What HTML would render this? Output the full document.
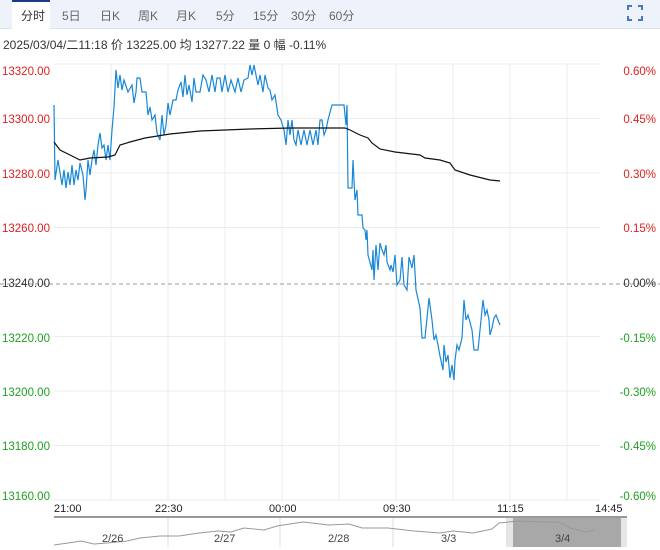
<!DOCTYPE html>
<html><head><meta charset="utf-8"><style>
body{margin:0;width:660px;height:550px;background:#fff;font-family:"Liberation Sans","Noto Sans CJK SC",sans-serif;overflow:hidden;position:relative}
.tabs{position:absolute;left:0;top:0;width:660px;height:28px;background:#eef3fb;border-bottom:1px solid #dde4ee}
.tab{position:absolute;top:7px;font-size:12px;color:#666}
.act{position:absolute;left:12px;top:0;width:38px;height:29px;background:#fff;border-top:2px solid #1b3a8c;box-sizing:border-box}
.info{position:absolute;left:3px;top:36px;font-size:12px;color:#333}
.l{position:absolute;font-size:11.5px;left:2px}
.r{position:absolute;font-size:11.5px;right:4px}
.t{position:absolute;top:503px;font-size:11px;color:#222}
</style></head><body>
<div class="tabs">
<div class="act"></div>
<span class="tab" style="left:21px;color:#333">分时</span>
<span class="tab" style="left:62px">5日</span>
<span class="tab" style="left:100px">日K</span>
<span class="tab" style="left:138px">周K</span>
<span class="tab" style="left:176px">月K</span>
<span class="tab" style="left:216px">5分</span>
<span class="tab" style="left:253px">15分</span>
<span class="tab" style="left:291px">30分</span>
<span class="tab" style="left:329px">60分</span>
<svg style="position:absolute;left:627px;top:5px" width="16" height="16"><path d="M1 5V1H5M11 1H15V5M15 11V15H11M5 15H1V11" fill="none" stroke="#4a78c0" stroke-width="2"/></svg>
</div>
<div class="info">2025/03/04/二11:18 价 13225.00 均 13277.22 量 0 幅 -0.11%</div>
<svg style="position:absolute;left:0;top:0" width="660" height="550">
<g stroke="#ececec" stroke-width="1">
<line x1="54" y1="64" x2="600" y2="64"/><line x1="54" y1="118.5" x2="600" y2="118.5"/><line x1="54" y1="173" x2="600" y2="173"/><line x1="54" y1="227.5" x2="600" y2="227.5"/><line x1="54" y1="336.5" x2="600" y2="336.5"/><line x1="54" y1="391" x2="600" y2="391"/><line x1="54" y1="445.5" x2="600" y2="445.5"/><line x1="54" y1="500" x2="600" y2="500"/>
<line x1="111" y1="64" x2="111" y2="500"/><line x1="168" y1="64" x2="168" y2="500"/><line x1="225" y1="64" x2="225" y2="500"/><line x1="282" y1="64" x2="282" y2="500"/><line x1="339" y1="64" x2="339" y2="500"/><line x1="396" y1="64" x2="396" y2="500"/><line x1="453" y1="64" x2="453" y2="500"/><line x1="510" y1="64" x2="510" y2="500"/><line x1="567" y1="64" x2="567" y2="500"/>
</g>
<line x1="0" y1="284" x2="660" y2="284" stroke="#999" stroke-dasharray="4,3"/>
<polyline fill="none" stroke="#1a87d6" stroke-width="1.2" points="54,105 55,180 58,160 62,185 64,170 66,188 68,172 70,185 72,165 74,185 76,170 78,180 80,163 83,175 85,200 86,190 88,160 90,175 92,160 94,150 96,165 98,145 100,133 102,148 104,145 106,160 108,145 110,160 112,130 114,107 116,70 118,88 120,75 122,90 124,80 128,92 132,85 134,103 136,92 137,78 140,78 142,92 146,92 148,115 150,107 152,120 155,115 157,133 160,140 162,115 164,135 166,125 168,103 170,115 173,100 176,100 178,90 181,82 183,97 185,75 187,95 189,85 192,102 194,78 196,92 200,92 203,75 206,80 209,92 212,75 215,92 217,78 220,78 222,92 225,75 228,92 231,80 235,92 238,78 241,92 244,80 248,78 250,65 252,75 254,65 256,75 258,85 260,75 263,92 265,75 268,88 270,90 272,100 275,95 278,115 281,120 284,130 286,145 288,120 290,135 292,120 294,140 296,145 298,130 301,145 304,130 307,145 310,130 313,145 316,130 318,145 320,120 322,120 324,135 326,130 328,120 332,105 344,105 346,125 347,105 348,188 352,188 353,160 355,200 357,190 358,215 362,215 363,228 365,230 366,240 367,230 368,255 372,270 373,250 374,280 376,245 378,270 380,243 382,250 384,255 386,245 387,262 390,270 391,265 393,272 395,255 397,285 400,280 402,257 404,285 407,290 409,257 412,268 414,255 416,290 420,308 422,338 425,338 427,318 429,298 432,320 434,340 436,335 438,345 440,356 443,370 444,345 446,362 448,355 450,378 452,365 454,380 455,360 457,345 459,350 462,338 464,300 466,320 468,315 472,330 474,350 478,350 481,320 483,300 485,315 487,310 489,320 490,335 492,328 494,318 496,315 500,325"/>
<polyline fill="none" stroke="#111" stroke-width="1.2" points="54,142 60,150 70,155 80,160 90,158 108,157 115,155 120,145 130,142 145,138 170,134 200,131 250,129 290,128 345,128 350,130 360,135 368,138 372,143 380,149 395,152 420,155 425,158 440,160 450,163 455,170 470,175 490,180 500,181"/>
<line x1="54" y1="517" x2="627" y2="517" stroke="#333"/>
<rect x="506" y="518" width="121" height="29" fill="#e6e6e6"/>
<rect x="513" y="518" width="108" height="29" fill="#a8a8a8"/>
<g stroke="#ddd"><line x1="168" y1="518" x2="168" y2="547"/><line x1="280" y1="518" x2="280" y2="547"/><line x1="393" y1="518" x2="393" y2="547"/></g>
<polyline fill="none" stroke="#999" points="54,545 68,543 81,541 94,544 107,543 127,541 140,538 160,536 179,536 199,533 218,531 231,532 244,528 264,530 277,526 303,522 329,525 349,524 362,528 388,528 414,531 427,532 440,533 453,531 473,533 492,529 499,523 518,521 544,522 557,522 564,524 570,528 586,532 594,530"/>
<g font-size="11" fill="#444" font-family="Liberation Sans,sans-serif"><text x="102" y="542">2/26</text><text x="214" y="542">2/27</text><text x="328" y="542">2/28</text><text x="441" y="542">3/3</text><text x="555" y="542">3/4</text></g>
</svg>
<div class="l" style="top:66px;color:#e02020">13320.00</div>
<div class="l" style="top:114px;color:#e02020">13300.00</div>
<div class="l" style="top:169px;color:#e02020">13280.00</div>
<div class="l" style="top:223px;color:#e02020">13260.00</div>
<div class="l" style="top:278px;color:#333">13240.00</div>
<div class="l" style="top:333px;color:#20a020">13220.00</div>
<div class="l" style="top:387px;color:#20a020">13200.00</div>
<div class="l" style="top:441px;color:#20a020">13180.00</div>
<div class="l" style="top:491px;color:#20a020">13160.00</div>
<div class="r" style="top:66px;color:#e02020">0.60%</div>
<div class="r" style="top:114px;color:#e02020">0.45%</div>
<div class="r" style="top:169px;color:#e02020">0.30%</div>
<div class="r" style="top:223px;color:#e02020">0.15%</div>
<div class="r" style="top:278px;color:#333">0.00%</div>
<div class="r" style="top:333px;color:#20a020">-0.15%</div>
<div class="r" style="top:387px;color:#20a020">-0.30%</div>
<div class="r" style="top:441px;color:#20a020">-0.45%</div>
<div class="r" style="top:491px;color:#20a020">-0.60%</div>
<div class="t" style="left:54px">21:00</div>
<div class="t" style="left:155px">22:30</div>
<div class="t" style="left:269px">00:00</div>
<div class="t" style="left:383px">09:30</div>
<div class="t" style="left:497px">11:15</div>
<div class="t" style="left:595px">14:45</div>
</body></html>
